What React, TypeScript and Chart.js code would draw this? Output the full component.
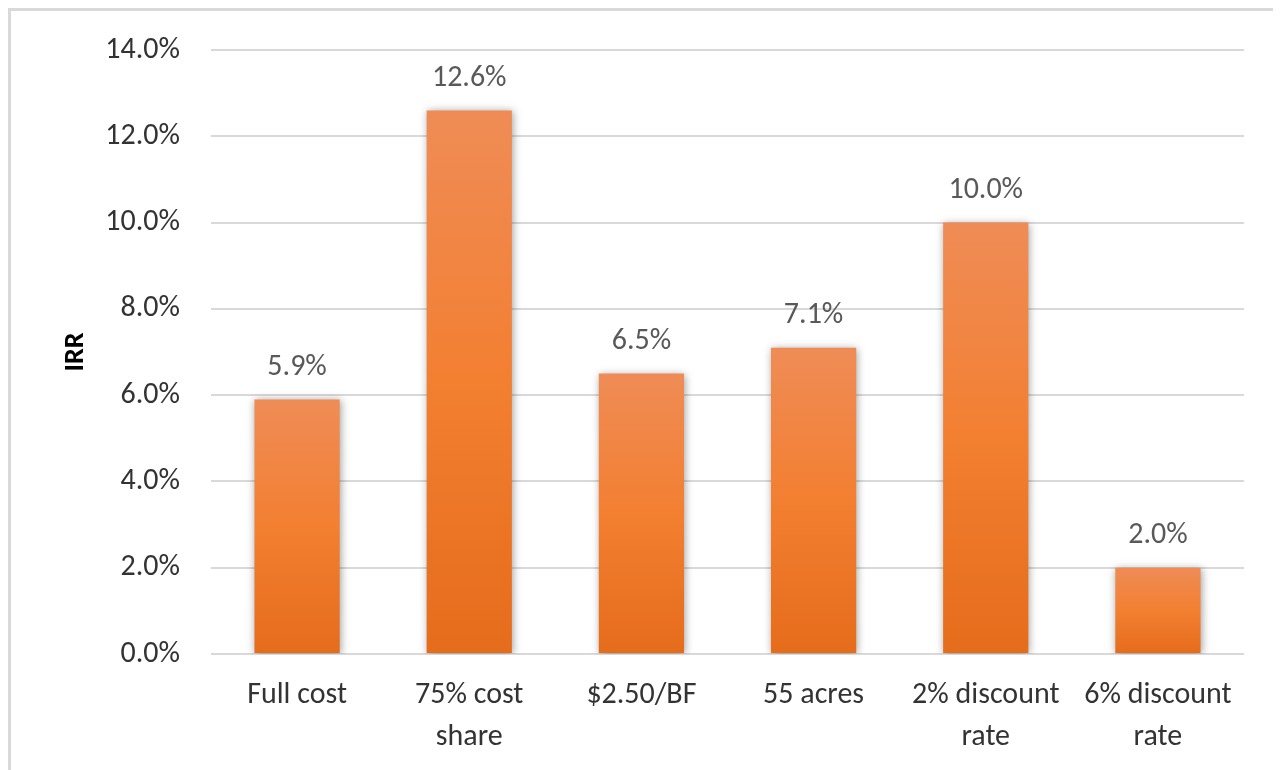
import React, { useEffect, useRef } from "react";
import { Chart, registerables } from "chart.js";

Chart.register(...registerables);

const categories: (string | string[])[] = [
  "Full cost",
  ["75% cost", "share"],
  "$2.50/BF",
  "55 acres",
  ["2% discount", "rate"],
  ["6% discount", "rate"],
];
const irrValues: number[] = [5.9, 12.6, 6.5, 7.1, 10.0, 2.0];
const yMin = 0;
const yMax = 14;
const yStep = 2;
const yTitle = "IRR";

const FONT = "Carlito, Lato, 'Noto Sans', sans-serif";

const shadowPlugin = {
  id: "barShadow",
  beforeDatasetsDraw(chart: any) {
    const ctx = chart.ctx;
    ctx.save();
    ctx.shadowColor = "rgba(0,0,0,0.38)";
    ctx.shadowBlur = 8;
    ctx.shadowOffsetX = 1;
    ctx.shadowOffsetY = 1;
  },
  afterDatasetsDraw(chart: any) {
    chart.ctx.restore();
  },
};

const labelPlugin = {
  id: "valueLabels",
  afterDraw(chart: any) {
    const ctx = chart.ctx;
    const meta = chart.getDatasetMeta(0);
    ctx.save();
    ctx.font = `30px ${FONT}`;
    ctx.fillStyle = "#595959";
    ctx.textAlign = "center";
    ctx.textBaseline = "middle";
    meta.data.forEach((bar: any, i: number) => {
      const v = chart.data.datasets[0].data[i] as number;
      ctx.fillText(v.toFixed(1) + "%", bar.x, bar.y - 32);
    });
    ctx.restore();
  },
};

export default function App() {
  const ref = useRef<HTMLCanvasElement | null>(null);
  useEffect(() => {
    if (!ref.current) return;
    const chart = new Chart(ref.current, {
      type: "bar",
      data: {
        labels: categories,
        datasets: [
          {
            data: irrValues,
            backgroundColor: (c: any) => {
              const ch = c.chart;
              if (!ch.chartArea || c.raw === undefined) return "#F07F30";
              const y = ch.scales.y;
              const top = y.getPixelForValue(c.raw);
              const bot = y.getPixelForValue(0);
              const g = ch.ctx.createLinearGradient(0, top, 0, bot);
              g.addColorStop(0, "#EF8C56");
              g.addColorStop(0.5, "#F37F31");
              g.addColorStop(1, "#E56C1B");
              return g;
            },
            borderWidth: 0,
            barPercentage: 0.495,
            categoryPercentage: 1,
          },
        ],
      },
      options: {
        animation: false,
        responsive: false,
        maintainAspectRatio: false,
        layout: { padding: { left: 0, right: 37, top: 39, bottom: 0 } },
        plugins: {
          legend: { display: false },
          tooltip: { enabled: false },
        },
        scales: {
          x: {
            grid: { display: false, drawTicks: false },
            border: { display: false },
            ticks: {
              color: "#333333",
              font: { family: FONT, size: 30, lineHeight: 1.38 },
              padding: 21,
              maxRotation: 0,
              autoSkip: false,
            },
            afterFit(scale: any) {
              scale.height = 116;
            },
          },
          y: {
            min: yMin,
            max: yMax,
            grid: {
              color: "#D9D9D9",
              lineWidth: 2,
              drawTicks: true,
              tickLength: 28,
              tickColor: "rgba(0,0,0,0)",
            },
            border: { display: false },
            ticks: {
              stepSize: yStep,
              color: "#333333",
              font: { family: FONT, size: 30 },
              padding: 3,
              callback: (v: any) => Number(v).toFixed(1) + "%",
            },
            title: {
              display: true,
              text: yTitle,
              color: "#000000",
              font: { family: FONT, size: 28, weight: "bold" },
              padding: { top: 48, bottom: 0 },
            },
            afterFit(scale: any) {
              scale.width = 200;
            },
          },
        },
      },
      plugins: [shadowPlugin, labelPlugin],
    });
    return () => chart.destroy();
  }, []);

  return (
    <div
      style={{
        width: 1270,
        height: 759,
        borderTop: "3px solid #D9D9D9",
        borderLeft: "3px solid #D9D9D9",
        overflow: "hidden",
      }}
    >
      <canvas ref={ref} width={1270} height={759} style={{ display: "block" }} />
    </div>
  );
}
